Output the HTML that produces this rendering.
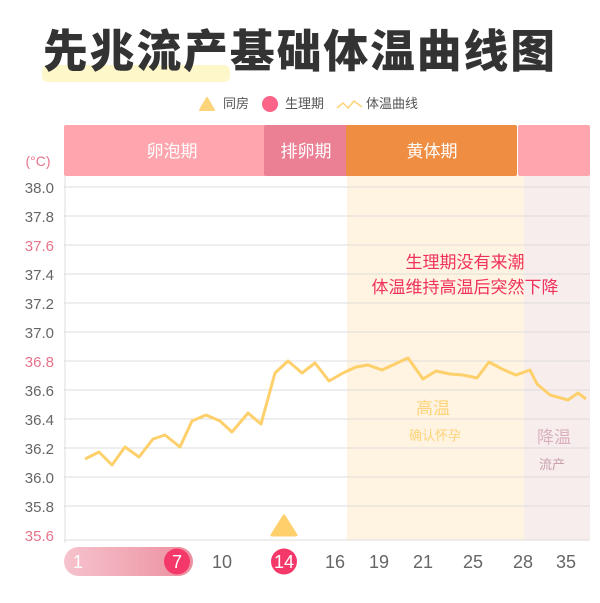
<!DOCTYPE html>
<html><head><meta charset="utf-8"><style>
body{margin:0;background:#fff;}
svg{display:block;font-family:"Liberation Sans","Noto Sans CJK SC",sans-serif;}
</style></head><body>
<svg width="600" height="603" viewBox="0 0 600 603">
<rect x="42" y="65" width="188" height="17" rx="6" fill="#fdf7c9"/>
<text x="300" y="67" text-anchor="middle" font-size="45" font-weight="900" fill="#333" letter-spacing="2" textLength="514" lengthAdjust="spacingAndGlyphs">先兆流产基础体温曲线图</text>
<!-- legend -->
<path d="M200 110 L207 98 L214 110 Z" fill="#fdd47a" stroke="#fdd47a" stroke-linejoin="round" stroke-width="2"/>
<text x="223" y="108" font-size="13" fill="#555">同房</text>
<circle cx="270" cy="104" r="8" fill="#fb6388"/>
<text x="285" y="108" font-size="13" fill="#555">生理期</text>
<polyline points="337,108 343,103 348,108 354,101 362,107" fill="none" stroke="#fdd47a" stroke-width="1.5"/>
<text x="366" y="108" font-size="13" fill="#555">体温曲线</text>
<!-- header -->
<rect x="64" y="125" width="202" height="51" fill="#fea5ad" rx="2"/>
<rect x="264" y="125" width="84" height="51" fill="#eb8095" rx="2"/>
<rect x="346" y="125" width="171" height="51" fill="#ef8e43" rx="2"/>
<rect x="518" y="125" width="72" height="51" fill="#fea5ad" rx="2"/>
<text x="172" y="157" text-anchor="middle" font-size="17" fill="#fff">卵泡期</text>
<text x="306" y="157" text-anchor="middle" font-size="17" fill="#fff">排卵期</text>
<text x="432" y="157" text-anchor="middle" font-size="17" fill="#fff">黄体期</text>
<text x="38" y="166" text-anchor="middle" font-size="14" fill="#e6738a">(°C)</text>
<!-- bg tints -->
<rect x="347" y="176" width="177" height="364" fill="#fff3e1"/>
<rect x="524" y="176" width="66" height="364" fill="#f7eded"/>
<!-- grid -->
<g stroke="#dcdcdc" stroke-width="1">
<line x1="64" x2="590" y1="187" y2="187"/><line x1="64" x2="590" y1="216" y2="216"/>
<line x1="64" x2="590" y1="245" y2="245"/><line x1="64" x2="590" y1="274" y2="274"/>
<line x1="64" x2="590" y1="303" y2="303"/><line x1="64" x2="590" y1="332" y2="332"/>
<line x1="64" x2="590" y1="361" y2="361"/><line x1="64" x2="590" y1="390" y2="390"/>
<line x1="64" x2="590" y1="419" y2="419"/><line x1="64" x2="590" y1="448" y2="448"/>
<line x1="64" x2="590" y1="477" y2="477"/><line x1="64" x2="590" y1="506" y2="506"/>
<line x1="64" x2="590" y1="540" y2="540"/>
<line x1="65" x2="65" y1="176" y2="543"/>
</g>
<g font-size="15" fill="#666" text-anchor="end">
<text x="54" y="193">38.0</text><text x="54" y="222">37.8</text>
<text x="54" y="251" fill="#e6738a">37.6</text><text x="54" y="280">37.4</text>
<text x="54" y="309">37.2</text><text x="54" y="338">37.0</text>
<text x="54" y="367" fill="#e6738a">36.8</text><text x="54" y="396">36.6</text>
<text x="54" y="425">36.4</text><text x="54" y="454">36.2</text>
<text x="54" y="483">36.0</text><text x="54" y="512">35.8</text>
<text x="54" y="541" fill="#e6738a">35.6</text>
</g>
<text x="465" y="268" text-anchor="middle" font-size="17" fill="#f0325a">生理期没有来潮</text>
<text x="465" y="293" text-anchor="middle" font-size="17" fill="#f0325a">体温维持高温后突然下降</text>
<text x="433" y="414" text-anchor="middle" font-size="17" fill="#fdd47a">高温</text>
<text x="435" y="440" text-anchor="middle" font-size="13" fill="#fdd47a">确认怀孕</text>
<text x="554" y="443" text-anchor="middle" font-size="17" fill="#d9b0bd">降温</text>
<text x="552" y="469" text-anchor="middle" font-size="13" fill="#c9a0ad">流产</text>
<polyline fill="none" stroke="#fed06c" stroke-width="3" stroke-linejoin="round" points="85,459 99,452 112,465 125,447 139,457 153,439 165,435 180,447 192,421 206,415 220,421 232,432 248,413 261,424 275,373 288,361 302,373 315,363 329,381 343,373 356,367 368,365 382,370 395,364 408,358 423,379 436,371 450,374 463,375 477,378 489,362 502,369 516,375 530,370 537,384 550,395 568,400 578,393 586,399"/>
<path d="M272 535 L284 516 L296 535 Z" fill="#fed06c" stroke="#fed06c" stroke-width="3" stroke-linejoin="round"/>
<defs><linearGradient id="g" x1="0" x2="1"><stop offset="0" stop-color="#f6c3cd"/><stop offset="1" stop-color="#ec8fa0"/></linearGradient></defs>
<rect x="64" y="547" width="129" height="29" rx="14.5" fill="url(#g)"/>
<circle cx="177" cy="561.5" r="13" fill="#f4386a"/>
<circle cx="284" cy="561.5" r="13" fill="#f4386a"/>
<g font-size="18" text-anchor="middle" fill="#666">
<text x="78" y="568" fill="#fff">1</text><text x="177" y="568" fill="#fff">7</text>
<text x="222" y="568">10</text><text x="284" y="568" fill="#fff">14</text>
<text x="335" y="568">16</text><text x="379" y="568">19</text>
<text x="423" y="568">21</text><text x="473" y="568">25</text>
<text x="523" y="568">28</text><text x="566" y="568">35</text>
</g>
</svg>
</body></html>
